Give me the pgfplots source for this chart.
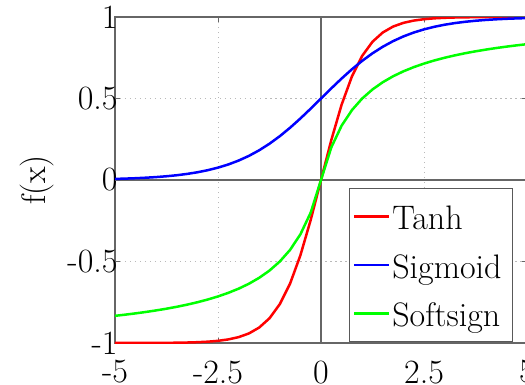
\documentclass[border=0pt]{standalone}
\usepackage{pgfplots}
\pgfplotsset{compat=1.18}
\begin{document}
\begin{tikzpicture}
\begin{axis}[
  name=ax,
  scale only axis,
  width=412pt, height=326pt,
  xmin=-5, xmax=5, ymin=-1, ymax=1,
  xtick={-5,-2.5,0,2.5,5}, xticklabels={-5,-2.5,0,2.5,5},
  ytick={-1,-0.5,0,0.5,1}, yticklabels={-1,-0.5,0,0.5,1},
  tick align=inside,
  major tick length=5pt,
  every tick/.style={gray!80!black, line width=1pt},
  axis line style={gray!80!black, line width=1.2pt},
  grid=major,
  grid style={gray!55, line width=1pt, dash pattern=on 1.5pt off 3.5pt},
  tick label style={font=\fontsize{34}{40}\selectfont},
  xticklabel style={yshift=-14pt},
  yticklabel style={xshift=6pt},
  ylabel={f(x)},
  ylabel style={font=\fontsize{34}{40}\selectfont, at={(axis description cs:-0.1893,0.5)}, anchor=center},
  legend cell align=left,
  legend style={at={(axis cs:4.66,-0.994)}, anchor=south east,
    draw=gray!70!black, line width=1pt, fill=white,
    font=\fontsize{34}{40}\selectfont,
    inner xsep=3pt, inner ysep=6pt, row sep=4.5pt,
    nodes={inner ysep=0pt, inner xsep=2pt, text height=35pt, text depth=9pt}},
  legend image code/.code={\path[draw=none, fill=none] (0pt,-5pt) rectangle (37pt,15pt); \draw[#1, line width=2.5pt] (2pt,0pt) -- (37pt,0pt);},
]
\draw[gray!80!black, line width=1.2pt] (axis cs:0,-1) -- (axis cs:0,1);
\draw[gray!80!black, line width=1.2pt] (axis cs:-5,0) -- (axis cs:5,0);
\addplot[red, line width=2.5pt] coordinates {
(-5,-0.9999) (-4.75,-0.9999) (-4.5,-0.9998) (-4.25,-0.9996) (-4,-0.9993) (-3.75,-0.9989) (-3.5,-0.9982) (-3.25,-0.9970) (-3,-0.9951) (-2.75,-0.9919) (-2.5,-0.9866) (-2.25,-0.9780) (-2,-0.9640) (-1.75,-0.9414) (-1.5,-0.9051) (-1.25,-0.8483) (-1,-0.7616) (-0.75,-0.6351) (-0.5,-0.4621) (-0.25,-0.2449) (0,0)
(0.25,0.2449) (0.5,0.4621) (0.75,0.6351) (1,0.7616) (1.25,0.8483) (1.5,0.9051) (1.75,0.9414) (2,0.9640) (2.25,0.9780) (2.5,0.9866) (2.75,0.9919) (3,0.9951) (3.25,0.9970) (3.5,0.9982) (3.75,0.9989) (4,0.9993) (4.25,0.9996) (4.5,0.9998) (4.75,0.9999) (5,0.9999)};
\addlegendentry{Tanh}
\addplot[blue, line width=2.5pt] coordinates {
(-5,0.0067) (-4.75,0.0086) (-4.5,0.0110) (-4.25,0.0141) (-4,0.0180) (-3.75,0.0230) (-3.5,0.0293) (-3.25,0.0373) (-3,0.0474) (-2.75,0.0601) (-2.5,0.0759) (-2.25,0.0953) (-2,0.1192) (-1.75,0.1480) (-1.5,0.1824) (-1.25,0.2227) (-1,0.2689) (-0.75,0.3208) (-0.5,0.3775) (-0.25,0.4378) (0,0.5)
(0.25,0.5622) (0.5,0.6225) (0.75,0.6792) (1,0.7311) (1.25,0.7773) (1.5,0.8176) (1.75,0.8520) (2,0.8808) (2.25,0.9047) (2.5,0.9241) (2.75,0.9399) (3,0.9526) (3.25,0.9627) (3.5,0.9707) (3.75,0.9770) (4,0.9820) (4.25,0.9859) (4.5,0.9890) (4.75,0.9914) (5,0.9933)};
\addlegendentry{Sigmoid\hspace*{6pt}}
\addplot[green, line width=2.5pt] coordinates {
(-5,-0.8333) (-4.75,-0.8261) (-4.5,-0.8182) (-4.25,-0.8095) (-4,-0.8) (-3.75,-0.7895) (-3.5,-0.7778) (-3.25,-0.7647) (-3,-0.75) (-2.75,-0.7333) (-2.5,-0.7143) (-2.25,-0.6923) (-2,-0.6667) (-1.75,-0.6364) (-1.5,-0.6) (-1.25,-0.5556) (-1,-0.5) (-0.75,-0.4286) (-0.5,-0.3333) (-0.25,-0.2) (0,0)
(0.25,0.2) (0.5,0.3333) (0.75,0.4286) (1,0.5) (1.25,0.5556) (1.5,0.6) (1.75,0.6364) (2,0.6667) (2.25,0.6923) (2.5,0.7143) (2.75,0.7333) (3,0.75) (3.25,0.7647) (3.5,0.7778) (3.75,0.7895) (4,0.8) (4.25,0.8095) (4.5,0.8182) (4.75,0.8261) (5,0.8333)};
\addlegendentry{Softsign}
\end{axis}
\pgfresetboundingbox
\useasboundingbox ([xshift=-115pt,yshift=-41pt]ax.south west) rectangle ([xshift=410pt,yshift=343pt]ax.south west);
\end{tikzpicture}
\end{document}
